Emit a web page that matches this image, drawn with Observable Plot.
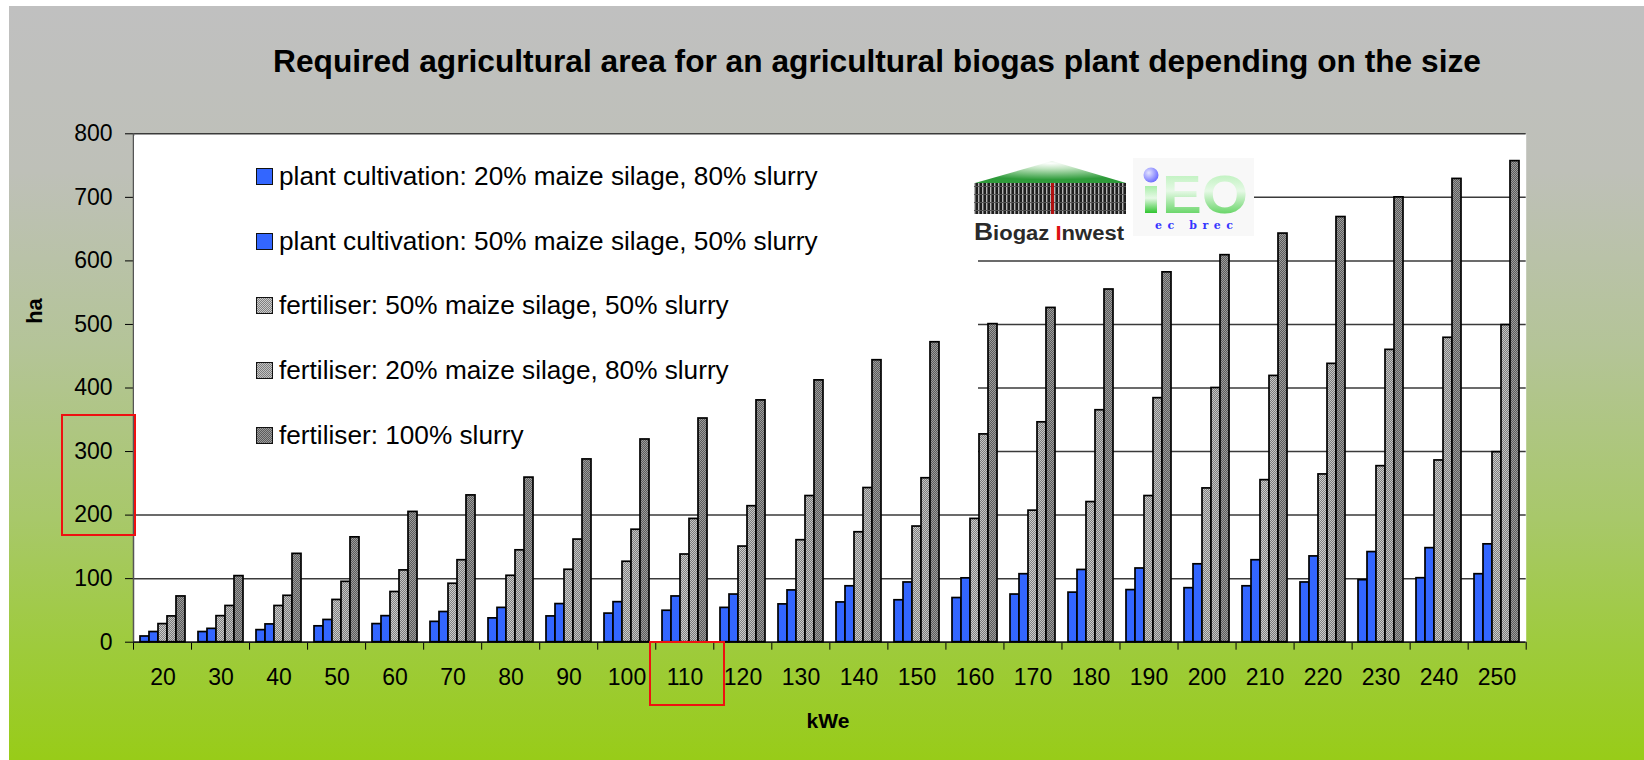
<!DOCTYPE html>
<html>
<head>
<meta charset="utf-8">
<script src="https://cdn.jsdelivr.net/npm/d3@7"></script>
<script src="https://cdn.jsdelivr.net/npm/@observablehq/plot@0.6"></script>
<style>
html, body { margin: 0; padding: 0; background: #ffffff; }
#wrap { position: relative; width: 1644px; height: 760px; overflow: hidden;
  font-family: "Liberation Sans", Arial, sans-serif; color: #000; }
#bg { position: absolute; left: 9px; top: 6px; right: 0; bottom: 0;
  background: linear-gradient(to bottom, #c0c0c0 0%, #bec0b8 22%, #b4c498 45%, #a8c86a 68%, #9ecb3c 85%, #98cc18 100%); }
.abs { position: absolute; }
#title { left: 877px; top: 61px; transform: translate(-50%, -50%); font-weight: bold;
  font-size: 31.7px; white-space: nowrap; }
#ha { left: 35px; top: 311px; transform: translate(-50%, -50%) rotate(-90deg); font-weight: bold; font-size: 22px; }
#kwe { left: 828px; top: 721px; transform: translate(-50%, -50%); font-weight: bold; font-size: 21px; }
#legendBg { left: 134px; top: 136px; width: 844px; height: 328px; background: #fff; }
.lg-row { position: absolute; left: 256px; height: 30px; display: flex; align-items: center; white-space: nowrap; }
.lg-sw { width: 15px; height: 15px; border: 1.5px solid #111; margin-right: 6px; box-sizing: content-box; }
.lg-tx { font-size: 26.2px; }
.redbox { position: absolute; border: 2px solid #ee1111; box-sizing: border-box; }
svg.layer { position: absolute; left: 0; top: 100px; }
</style>
</head>
<body>
<div id="wrap">
  <div id="bg"></div>
  <div id="title" class="abs">Required agricultural area for an agricultural biogas plant depending on the size</div>
  <div id="layerA"></div>
  <div id="legendBg" class="abs"></div>
  <div id="logos"></div>
  <div id="layerB"></div>
  <div id="legend"></div>
  <div id="ha" class="abs">ha</div>
  <div id="kwe" class="abs">kWe</div>
  <div class="redbox" style="left:61px;top:414px;width:75px;height:122px;"></div>
  <div class="redbox" style="left:649px;top:641px;width:76px;height:65px;"></div>
</div>
<script>
// ---------- data ----------
const kWe = [20, 30, 40, 50, 60, 70, 80, 90, 100, 110, 120, 130, 140, 150, 160, 170, 180, 190, 200, 210, 220, 230, 240, 250];
const seriesNames = [
  "plant cultivation: 20% maize silage, 80% slurry",
  "plant cultivation: 50% maize silage, 50% slurry",
  "fertiliser: 50% maize silage, 50% slurry",
  "fertiliser: 20% maize silage, 80% slurry",
  "fertiliser: 100% slurry"
];
const plantCult20 = [9, 16, 19, 25, 28.5, 32, 37.5, 40.6, 45, 49.5, 54, 59.5, 62.6, 66, 69.5, 75, 78, 82, 85, 88, 94, 97.6, 100.7, 107];
const plantCult50 = [16, 21, 28, 35, 41, 47.5, 54, 60, 63, 72, 75, 81.5, 88, 94, 100.5, 107, 113.7, 116, 122.6, 129, 135, 141.8, 148, 154];
const fert5050 = [28.5, 41, 57, 66.5, 79, 92, 104.5, 114, 126.6, 138, 150.5, 160.5, 173, 182, 194, 207, 220.5, 230, 242, 255, 264, 277, 286, 299];
const fert2080 = [40.6, 57, 73, 95, 113, 129, 144.6, 161.5, 177, 194, 214, 230, 242.6, 258, 327, 346, 365, 384, 400, 419, 438, 460, 479, 499];
const fert100 = [72, 104, 139, 165, 205, 231, 259, 287.6, 319, 352, 380.5, 412, 443.7, 472, 500.5, 526, 555, 582, 609, 643, 669, 700, 729, 757];
const yTicks = [0, 100, 200, 300, 400, 500, 600, 700, 800];

// ---------- styles ----------
const FONT = '"Liberation Sans", Arial, sans-serif';
const checkers = {
  patLight: ["#cccccc", "#808080"],
  patMid: ["#c4c4c4", "#7c7c7c"],
  patDark: ["#9c9c9c", "#5c5c5c"]
};
const fillRange = ["#3366ff", "#3366ff", "url(#patLight)", "url(#patMid)", "url(#patDark)"];
const swatchCss = [
  "#3366ff", "#3366ff",
  ...["patLight", "patMid", "patDark"].map(k => `repeating-conic-gradient(${checkers[k][0]} 0% 25%, ${checkers[k][1]} 0% 50%) 0 0 / 2px 2px`)
];

const valuesBySeries = [plantCult20, plantCult50, fert5050, fert2080, fert100];
const rows = kWe.flatMap((k, i) => seriesNames.map((s, j) => ({kWe: k, series: s, value: valuesBySeries[j][i]})));

const W = 1644, H = 660, mL = 133, mR = 118.3, mT = 33.3, mB = 118.3;

// ---------- layer A: plot area, gridlines, axes ----------
const plotA = Plot.plot({
  width: W, height: H,
  marginLeft: mL, marginRight: mR, marginTop: mT, marginBottom: mB,
  style: {background: "transparent", fontFamily: FONT, fontSize: "23px", color: "#000", overflow: "visible"},
  x: {domain: [0, kWe.length], ticks: d3.range(kWe.length + 1), tickFormat: () => "", tickSize: 8, label: null},
  y: {domain: [0, 800], ticks: yTicks, tickSize: 8, tickPadding: 13, label: null},
  marks: [
    Plot.frame({fill: "white", stroke: "none"}),
    Plot.ruleY(yTicks.filter(d => d > 0), {stroke: "#3a3a3a", strokeWidth: 1.5}),
    Plot.ruleX([0], {stroke: "#555", strokeWidth: 1.5}),
    Plot.ruleY([0], {stroke: "#1a1a1a", strokeWidth: 1.8})
  ]
});
plotA.classList.add("layer");
document.getElementById("layerA").appendChild(plotA);

// ---------- layer B: bars ----------
const plotB = Plot.plot({
  width: W, height: H,
  marginLeft: mL, marginRight: mR, marginTop: mT, marginBottom: mB,
  style: {background: "transparent", fontFamily: FONT, fontSize: "23px", color: "#000", overflow: "visible"},
  facet: {data: rows, x: "kWe"},
  fx: {domain: kWe, paddingInner: 0.224, paddingOuter: 0.112, axis: "bottom", label: null, tickSize: 0, tickPadding: 26},
  x: {domain: seriesNames, padding: 0, axis: null},
  y: {domain: [0, 800], axis: null},
  color: {domain: seriesNames, range: fillRange},
  marks: [
    Plot.barY(rows, {x: "series", y: "value", fill: "series", stroke: "#000", strokeWidth: 1.7})
  ]
});
plotB.classList.add("layer");
const defs = d3.select(plotB).insert("defs", ":first-child");
for (const [id, [a, b]] of Object.entries(checkers)) {
  const p = defs.append("pattern").attr("id", id).attr("patternUnits", "userSpaceOnUse")
    .attr("width", 2).attr("height", 2);
  p.append("rect").attr("width", 2).attr("height", 2).attr("fill", a);
  p.append("rect").attr("width", 1).attr("height", 1).attr("fill", b);
  p.append("rect").attr("x", 1).attr("y", 1).attr("width", 1).attr("height", 1).attr("fill", b);
}
document.getElementById("layerB").appendChild(plotB);

// ---------- legend ----------
const legend = document.getElementById("legend");
const rowTops = [176.7, 241.3, 305.9, 370.5, 435.1];
seriesNames.forEach((name, j) => {
  const r = document.createElement("div");
  r.className = "lg-row";
  r.style.top = (rowTops[j] - 15) + "px";
  const sw = document.createElement("div");
  sw.className = "lg-sw";
  sw.style.background = swatchCss[j];
  const tx = document.createElement("span");
  tx.className = "lg-tx";
  tx.textContent = name;
  r.appendChild(sw); r.appendChild(tx);
  legend.appendChild(r);
});

// ---------- logos ----------
const NS = "http://www.w3.org/2000/svg";
const logo = d3.select("#logos").append("svg")
  .attr("xmlns", NS).attr("width", 292).attr("height", 96)
  .style("position", "absolute").style("left", "968px").style("top", "155px");
const ld = logo.append("defs");
const roofG = ld.append("radialGradient").attr("id", "roofG").attr("cx", "0.5").attr("cy", "0.1").attr("r", "0.75");
roofG.append("stop").attr("offset", "0").attr("stop-color", "#ffffff");
roofG.append("stop").attr("offset", "0.35").attr("stop-color", "#bfe3bf");
roofG.append("stop").attr("offset", "1").attr("stop-color", "#2e9b3a");
const stripe = ld.append("pattern").attr("id", "bldg").attr("patternUnits", "userSpaceOnUse").attr("width", 4).attr("height", 8);
stripe.append("rect").attr("width", 4).attr("height", 8).attr("fill", "#1e1e1e");
stripe.append("rect").attr("x", 2).attr("width", 1.4).attr("height", 8).attr("fill", "#b5b5b5");
stripe.append("rect").attr("y", 7).attr("width", 4).attr("height", 1).attr("fill", "#555");
const ieoG = ld.append("linearGradient").attr("id", "ieoG").attr("x1", 0).attr("y1", 0).attr("x2", 0).attr("y2", 1);
ieoG.append("stop").attr("offset", "0").attr("stop-color", "#a9eea9");
ieoG.append("stop").attr("offset", "0.45").attr("stop-color", "#e6f9e6");
ieoG.append("stop").attr("offset", "1").attr("stop-color", "#2fc52f");
const dotG = ld.append("radialGradient").attr("id", "dotG").attr("cx", "0.35").attr("cy", "0.35").attr("r", "0.7");
dotG.append("stop").attr("offset", "0").attr("stop-color", "#e4e4ff");
dotG.append("stop").attr("offset", "1").attr("stop-color", "#6a6aff");

logo.append("rect").attr("x", 2).attr("y", 0).attr("width", 163).attr("height", 92).attr("fill", "#ffffff");
logo.append("polygon").attr("points", "7,28 158,28 84,6").attr("fill", "url(#roofG)");
logo.append("rect").attr("x", 6).attr("y", 28).attr("width", 152).attr("height", 31).attr("fill", "url(#bldg)");
logo.append("rect").attr("x", 83).attr("y", 28).attr("width", 3).attr("height", 31).attr("fill", "#b01010");
const bt = logo.append("text").attr("x", 6).attr("y", 85).attr("font-family", FONT).attr("font-weight", "bold")
  .attr("font-size", 20).attr("fill", "#2a2a2a").attr("textLength", 150).attr("lengthAdjust", "spacingAndGlyphs");
bt.append("tspan").attr("font-size", 24).text("B");
bt.append("tspan").text("iogaz ");
bt.append("tspan").attr("fill", "#dd1111").text("I");
bt.append("tspan").text("nwest");

logo.append("rect").attr("x", 165).attr("y", 3).attr("width", 121).attr("height", 78).attr("fill", "#f8f8f8");
logo.append("rect").attr("x", 177).attr("y", 31).attr("width", 12).attr("height", 27).attr("fill", "url(#ieoG)");
logo.append("circle").attr("cx", 183).attr("cy", 20).attr("r", 7.5).attr("fill", "url(#dotG)");
logo.append("text").attr("x", 194).attr("y", 58).attr("font-family", FONT).attr("font-weight", "bold")
  .attr("font-size", 54).attr("fill", "url(#ieoG)").attr("textLength", 86).attr("lengthAdjust", "spacingAndGlyphs").text("EO");
logo.append("text").attr("x", 187).attr("y", 74).attr("font-family", '"DejaVu Serif", "Liberation Serif", serif')
  .attr("font-weight", "bold").attr("font-size", 11).attr("fill", "#3535ff")
  .attr("textLength", 78).attr("lengthAdjust", "spacing").text("ec brec");
</script>
</body>
</html>
